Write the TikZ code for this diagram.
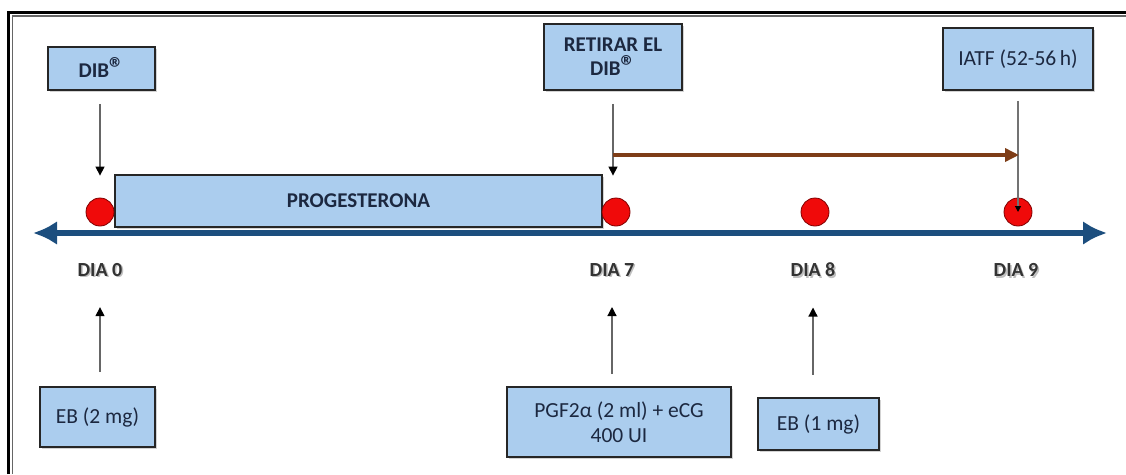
\documentclass[tikz,border=0pt]{standalone}
\usepackage{fontspec}
\setmainfont{Carlito}
\usetikzlibrary{arrows.meta,shadows}
\definecolor{boxfill}{HTML}{ABCDEE}
\definecolor{boxtext}{HTML}{1C2840}
\definecolor{axisblue}{HTML}{1C4E7E}
\definecolor{brownarr}{HTML}{7E3D17}
\definecolor{dotred}{HTML}{F00A0A}
\definecolor{labgray}{HTML}{333333}
\newcommand{\regmark}{{\fontsize{30}{30}\selectfont\raisebox{-1pt}{®}}}
\tikzset{
  box/.style={draw=black!85, line width=1.6pt, fill=boxfill, text=boxtext, align=center,
    inner sep=2pt, font=\fontsize{21.5}{25}\selectfont,
    drop shadow={shadow xshift=1.5pt, shadow yshift=-2pt, opacity=0.35}},
  boldbox/.style={box, font=\fontsize{21}{25}\selectfont\bfseries},
  dot/.style={circle, draw=red!50!black, line width=0.8pt, fill=dotred, minimum size=28pt, inner sep=0pt},
  daylab/.style={font=\fontsize{20}{23}\selectfont\bfseries, text=labgray},
  daysh/.style={font=\fontsize{20}{23}\selectfont\bfseries, text=black!25},
  thinarr/.style={draw=black!60, line width=1.3pt, -{Triangle[length=9pt,width=9pt,color=black,fill=black]}},
  thinln/.style={draw=black!55, line width=1.2pt}
}
\begin{document}
\begin{tikzpicture}[x=1pt,y=-1pt]
\useasboundingbox (0,0) rectangle (1126,474);
% frame (top and left visible)
\draw[line width=3pt, black] (8.5,474) -- (8.5,12) -- (1126,12);
\draw[line width=1.2pt, black!60] (12.8,474) -- (12.8,16) -- (1126,16);

% main axis
\coordinate (axL) at (33,233);
\coordinate (axR) at (1107,233);
\draw[line width=6pt, axisblue, {Latex[length=24pt,width=24pt]}-{Latex[length=24pt,width=24pt]}] (axL) -- (axR);

% progesterone bar
\node[boldbox, minimum width=487pt, minimum height=52pt] (prog) at (358.5,201) {PROGESTERONA};

% dots
\node[dot] (c0) at (100,212) {};
\node[dot] (c7) at (616,212) {};
\node[dot] (c8) at (815,212) {};
\node[dot] (c9) at (1018,212) {};

% top boxes
\node[boldbox, minimum width=107pt, minimum height=43pt] (dib) at (101.5,68.5) {DIB\regmark};
\node[boldbox, minimum width=138pt, minimum height=66pt, font=\fontsize{21}{24}\selectfont\bfseries] (ret) at (613,57) {RETIRAR EL\\DIB\regmark};
\node[box, minimum width=150pt, minimum height=62pt] (iatf) at (1018,59) {IATF (52-56\,h)};

% bottom boxes
\node[box, minimum width=115pt, minimum height=60pt] (eb2) at (97.5,417) {EB (2 mg)};
\node[box, minimum width=224pt, minimum height=70pt, font=\fontsize{21.5}{25}\selectfont] (pgf) at (619,422) {PGF2α (2 ml) + eCG\\400 UI};
\node[box, minimum width=121pt, minimum height=52pt] (eb1) at (818.5,424) {EB (1 mg)};

% day labels
\foreach \x/\n/\t in {100/d0/DIA 0, 612/d7/DIA 7, 813/d8/DIA 8, 1016/d9/DIA 9}{
  \node[daysh] at (\x+1.5,271.5) {\t};
  \node[daylab] (\n) at (\x,270) {\t};
}

% top arrows
\draw[thinarr] ([yshift=-13pt]c0.north |- dib.south) -- ([yshift=22pt]c0.north);
\draw[thinarr] ([yshift=-13pt]ret.south) -- ([yshift=22pt,xshift=-3pt]c7.north);
\draw[thinln, -{Triangle[length=6pt,width=6pt,color=black,fill=black]}] ([yshift=-10pt]iatf.south) -- (c9.center);

% brown arrow
\coordinate (bs) at (613,155);
\coordinate (be) at (1019,155);
\draw[line width=4pt, brownarr, -{Triangle[length=14pt,width=13pt]}] (bs) -- (be);

% bottom arrows
\draw[thinarr] ([yshift=-92pt]d0.south) -- ([yshift=-27pt]d0.south);
\draw[thinarr] ([yshift=-94pt]d7.south) -- ([yshift=-27pt]d7.south);
\draw[thinarr] ([yshift=-94pt]d8.south) -- ([yshift=-27pt]d8.south);
\end{tikzpicture}
\end{document}
